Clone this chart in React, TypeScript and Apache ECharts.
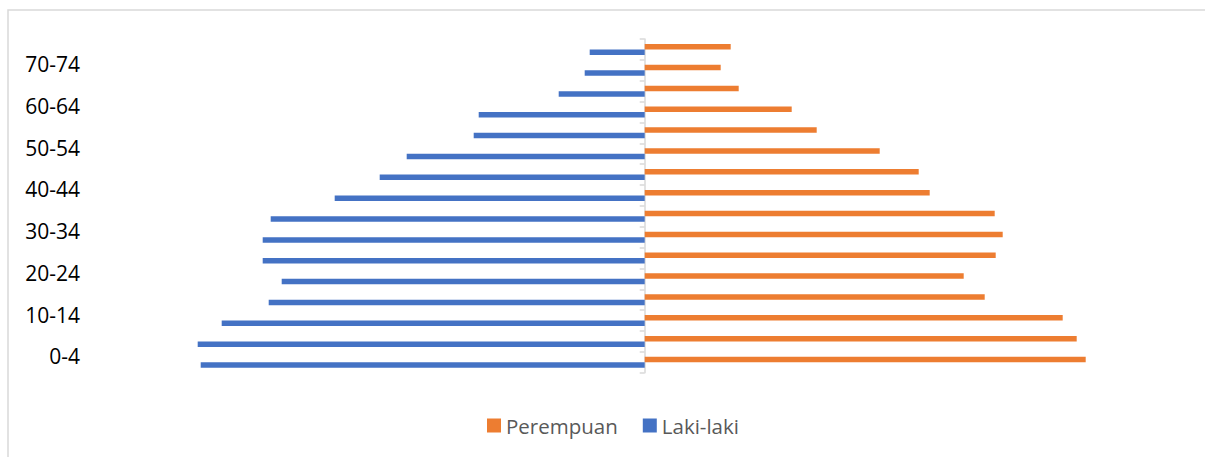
import React, { useEffect, useRef } from "react";
import * as echarts from "echarts";

const categories = ["0-4", "5-9", "10-14", "15-19", "20-24", "25-29", "30-34", "35-39", "40-44", "45-49", "50-54", "55-59", "60-64", "65-69", "70-74", "75+"];
const perempuan = [441, 432, 418, 340, 319, 351, 358, 350, 285, 274, 235, 172, 147, 94, 76, 86];
const lakiLaki = [444, 447, 423, 376, 363, 382, 382, 374, 310, 265, 238, 171, 166, 86, 60, 55];
const seriesNames = ["Perempuan", "Laki-laki"];

export default function App() {
  const ref = useRef<HTMLDivElement>(null);
  useEffect(() => {
    document.body.style.margin = "0";
    const chart = echarts.init(ref.current!, null, { renderer: "svg" });
    chart.setOption({
      animation: false,
      backgroundColor: "#ffffff",
      graphic: [
        {
          type: "rect",
          shape: { x: 8, y: 10, width: 1210, height: 470 },
          style: { fill: "none", stroke: "#d9d9d9", lineWidth: 1.5 },
          silent: true,
        },
      ],
      legend: {
        data: seriesNames,
        left: 487,
        top: 415,
        padding: 0,
        icon: "rect",
        itemWidth: 14,
        itemHeight: 14,
        itemGap: 25,
        textStyle: { fontFamily: "Open Sans", fontSize: 20.5, color: "#595959" },
      },
      grid: [
        { left: 144.7, right: 60.3, top: 39, bottom: 84.3, containLabel: false, outerBoundsMode: "none" },
        { left: 144.7, right: 60.3, top: 33, bottom: 90.3, containLabel: false, outerBoundsMode: "none" },
      ],
      xAxis: [
        {
          type: "value",
          gridIndex: 0,
          min: -500,
          max: 500,
          show: false,
          splitLine: { show: false },
        },
        {
          type: "value",
          gridIndex: 1,
          min: -500,
          max: 500,
          show: false,
          splitLine: { show: false },
        },
      ],
      yAxis: [
        {
          type: "category",
          gridIndex: 0,
          data: categories,
          position: "left",
          axisLine: { show: true, onZero: true, lineStyle: { color: "#d9d9d9", width: 1.5 } },
          axisTick: { show: true, interval: 0, length: 5, lineStyle: { color: "#d9d9d9", width: 1.5 } },
          axisLabel: { show: false },
          splitLine: { show: false },
        },
        {
          type: "category",
          gridIndex: 1,
          data: categories,
          position: "left",
          axisLine: { show: false, onZero: false },
          axisTick: { show: false },
          axisLabel: {
            interval: 1,
            margin: 64.7,
            fontFamily: "Open Sans",
            fontSize: 21,
            color: "#000000",
          },
          splitLine: { show: false },
        },
      ],
      series: [
        {
          name: seriesNames[0],
          type: "bar",
          xAxisIndex: 0,
          yAxisIndex: 0,
          data: perempuan,
          barWidth: 5.5,
          barGap: "0%",
          itemStyle: { color: "#ED7D31" },
        },
        {
          name: seriesNames[1],
          type: "bar",
          xAxisIndex: 0,
          yAxisIndex: 0,
          data: lakiLaki.map((v) => -v),
          barWidth: 5.5,
          barGap: "0%",
          itemStyle: { color: "#4472C4" },
        },
      ],
    });
    return () => chart.dispose();
  }, []);
  return <div ref={ref} style={{ position: "fixed", left: 0, top: 0, width: 1205, height: 457 }} />;
}
